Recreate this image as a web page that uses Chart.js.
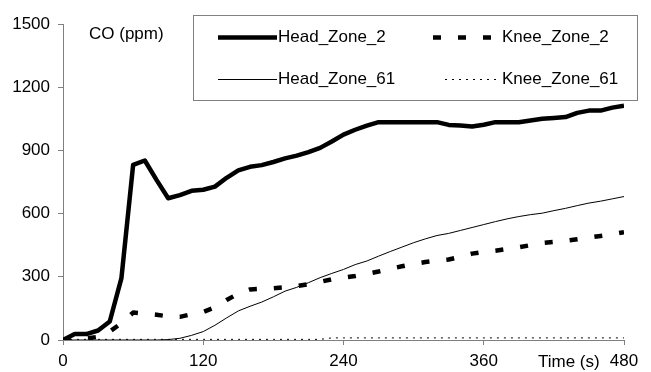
<!DOCTYPE html>
<html>
<head>
<meta charset="utf-8">
<script src="https://cdn.jsdelivr.net/npm/chart.js@4"></script>
<style>
  body { margin: 0; background: #fff; }
  canvas { display: block; }
</style>
</head>
<body>
<canvas id="coChart" width="651" height="372"></canvas>
<script>
// time axis (s) and CO readings (ppm)
const timeSec = [0, 10, 20, 30, 40, 50, 60, 70, 80, 90, 100, 110, 120, 130, 140, 150, 160, 170, 180, 190,
  200, 210, 220, 230, 240, 250, 260, 270, 280, 290, 300, 310, 320, 330, 340, 350, 360, 370, 380, 390,
  400, 410, 420, 430, 440, 450, 460, 470, 480];

const headZone2 = [0, 28, 28, 45, 88, 294, 831, 852, 760, 673, 688, 708, 713, 728, 770, 805, 822, 830, 845, 862,
  875, 892, 912, 942, 975, 998, 1018, 1034, 1034, 1034, 1034, 1034, 1034, 1021, 1018, 1013, 1022, 1034, 1034, 1034,
  1042, 1050, 1054, 1058, 1078, 1089, 1089, 1103, 1112];

const kneeZone2 = [0, 3, 8, 15, 40, 80, 130, 125, 120, 112, 110, 122, 133, 155, 190, 220, 240, 243, 246, 250,
  256, 265, 276, 288, 296, 304, 314, 325, 338, 350, 361, 370, 376, 382, 395, 410, 418, 424, 432, 440,
  450, 461, 466, 471, 478, 486, 494, 502, 512];

const headZone61 = [0, 0, 0, 0, 0, 0, 0, 0, 0, 2, 8, 22, 40, 70, 105, 138, 160, 180, 205, 232,
  250, 272, 296, 316, 335, 358, 375, 398, 420, 441, 462, 480, 496, 506, 520, 534, 548, 562, 575, 586,
  595, 602, 614, 625, 638, 650, 659, 670, 681];

const kneeZone61 = [3, 3, 3, 3, 3, 3, 3, 3, 3, 3, 3, 3, 3, 3, 3, 3, 3, 3, 3, 3,
  3, 3, 3, 10, 10, 10, 10, 10, 10, 10, 10, 10, 10, 10, 10, 10, 10, 10, 10, 10,
  10, 10, 10, 10, 10, 10, 10, 10, 10];

const xTicks = [0, 120, 240, 360, 480];
const yTicks = [0, 300, 600, 900, 1200, 1500];

const FONT = 'Arial, "Liberation Sans", sans-serif';
const AXIS_GREY = '#808080';

function toPoints(values) {
  return values.map((v, i) => ({ x: timeSec[i], y: v }));
}

// legend box + axis captions drawn on top of the plot
const annotations = {
  id: 'annotations',
  afterDraw(chart) {
    const ctx = chart.ctx;
    ctx.save();

    ctx.fillStyle = '#000';
    ctx.font = '17px ' + FONT;
    ctx.textBaseline = 'middle';
    ctx.textAlign = 'left';
    ctx.fillText('CO (ppm)', 89, 34);
    ctx.fillText('Time (s)', 538, 362);

    // legend frame
    ctx.fillStyle = '#fff';
    ctx.fillRect(193, 15, 444, 86);
    ctx.strokeStyle = AXIS_GREY;
    ctx.lineWidth = 1;
    ctx.strokeRect(193.5, 15.5, 444, 85);

    const slots = [
      { x1: 218, x2: 277, y: 37 },
      { x1: 433, x2: 501, y: 37 },
      { x1: 218, x2: 277, y: 79 },
      { x1: 445, x2: 501, y: 79 }
    ];
    chart.data.datasets.forEach((ds, i) => {
      const s = slots[i];
      ctx.strokeStyle = ds.borderColor;
      ctx.lineWidth = ds.borderWidth;
      ctx.setLineDash(ds.borderDash || []);
      ctx.beginPath();
      ctx.moveTo(s.x1, s.y + 0.5);
      ctx.lineTo(s.x2, s.y + 0.5);
      ctx.stroke();
      ctx.setLineDash([]);
      ctx.fillStyle = '#000';
      ctx.fillText(ds.label, s.x2 + 1, s.y);
    });

    ctx.restore();
  }
};

new Chart(document.getElementById('coChart'), {
  type: 'line',
  data: {
    datasets: [
      { label: 'Head_Zone_2', data: toPoints(headZone2), borderColor: '#000', borderWidth: 4.5 },
      { label: 'Knee_Zone_2', data: toPoints(kneeZone2), borderColor: '#000', borderWidth: 4.5, borderDash: [8, 17] },
      { label: 'Head_Zone_61', data: toPoints(headZone61), borderColor: '#000', borderWidth: 1 },
      { label: 'Knee_Zone_61', data: toPoints(kneeZone61), borderColor: '#000', borderWidth: 1, borderDash: [2, 5] }
    ]
  },
  options: {
    responsive: false,
    animation: false,
    devicePixelRatio: 1,
    layout: { padding: { top: 24, right: 27, bottom: 0, left: 0 } },
    elements: {
      point: { radius: 0 },
      line: { tension: 0, fill: false, borderCapStyle: 'butt', borderJoinStyle: 'round' }
    },
    plugins: {
      legend: { display: false },
      tooltip: { enabled: false }
    },
    scales: {
      x: {
        type: 'linear',
        min: 0,
        max: 480,
        afterFit: (scale) => { scale.height = 32; },
        afterBuildTicks: (scale) => { scale.ticks = xTicks.map(v => ({ value: v })); },
        border: { color: AXIS_GREY, width: 1 },
        grid: { drawOnChartArea: false, drawTicks: true, tickLength: 5, color: AXIS_GREY },
        ticks: { color: '#000', font: { family: FONT, size: 17 }, padding: 6, maxRotation: 0,
          callback: (v) => String(v) }
      },
      y: {
        min: 0,
        max: 1500,
        afterFit: (scale) => { scale.width = 63; },
        afterBuildTicks: (scale) => { scale.ticks = yTicks.map(v => ({ value: v })); },
        border: { color: AXIS_GREY, width: 1 },
        grid: { drawOnChartArea: false, drawTicks: true, tickLength: 5, color: AXIS_GREY },
        ticks: { color: '#000', font: { family: FONT, size: 17 }, padding: 8,
          callback: (v) => String(v) }
      }
    }
  },
  plugins: [annotations]
});
</script>
</body>
</html>
